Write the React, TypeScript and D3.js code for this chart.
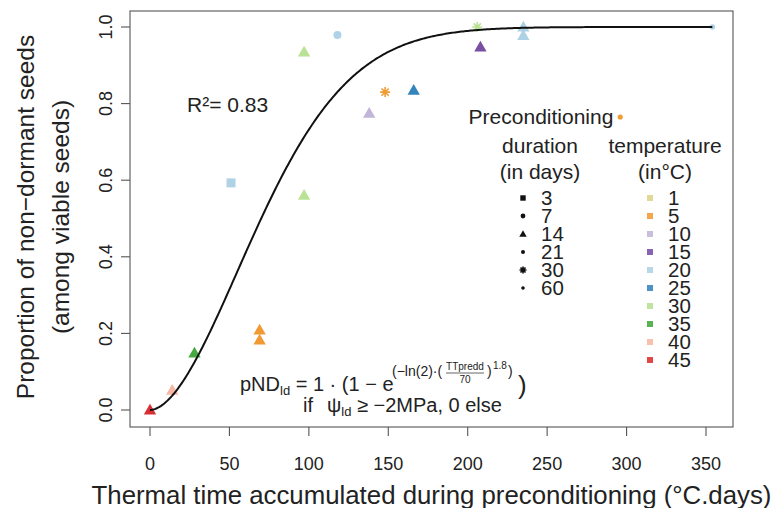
import React from 'react';
import * as d3 from 'd3';

// observed points: thermal time, proportion, temperature, duration
const thermalTime = [0, 14, 28, 69, 69, 51, 97, 97, 118, 138, 148, 166, 208, 206, 235, 235, 296, 354];
const proportion = [0, 0.052, 0.149, 0.209, 0.183, 0.593, 0.935, 0.561, 0.979, 0.775, 0.83, 0.835, 0.948, 1.0, 1.0, 0.978, 0.765, 1.0];
const tempOf = [45, 40, 35, 5, 5, 20, 30, 30, 20, 10, 5, 25, 15, 30, 20, 20, 5, 20];
const durOf = [14, 14, 14, 14, 14, 3, 14, 14, 7, 14, 30, 14, 14, 30, 14, 14, 60, 21];

const durations = [3, 7, 14, 21, 30, 60];
const temperatures = [1, 5, 10, 15, 20, 25, 30, 35, 40, 45];
const tempColors = ['#d9cf7e', '#f0901e', '#bcaed4', '#6a3d9a', '#a6cee3', '#1f78b4', '#b2df8a', '#33a02c', '#f8b09c', '#d7191c'];

const xTicks = [0, 50, 100, 150, 200, 250, 300, 350];
const yTicks = [0, 0.2, 0.4, 0.6, 0.8, 1.0];

// fitted model
const TT50 = 70;
const shape = 1.8;
const r2 = '0.83';

const font = 'Liberation Sans, Arial, Helvetica, sans-serif';

function Marker({ dur, x, y, color, small }: any) {
  const k = small ? 0.6 : 1;
  if (dur === 3) {
    const s = 9 * k;
    return <rect x={x - s / 2} y={y - s / 2} width={s} height={s} fill={color} />;
  }
  if (dur === 7) return <circle cx={x} cy={y} r={4 * k} fill={color} />;
  if (dur === 14) {
    const p = d3.symbol().type(d3.symbolTriangle).size(small ? 24 : 66)();
    return <path d={p as string} transform={`translate(${x},${y + (small ? 0.5 : 1)})`} fill={color} />;
  }
  if (dur === 21) return <circle cx={x} cy={y} r={small ? 2 : 2.8} fill={color} />;
  if (dur === 30) {
    const r = small ? 3.5 : 5;
    const d = r * 0.72;
    return (
      <path
        d={`M${x - r},${y}H${x + r}M${x},${y - r}V${y + r}M${x - d},${y - d}L${x + d},${y + d}M${x - d},${y + d}L${x + d},${y - d}`}
        stroke={color}
        strokeWidth={1.6}
        fill="none"
      />
    );
  }
  return <circle cx={x} cy={y} r={small ? 1.8 : 2.6} fill={color} />;
}

export default function App() {
  const x = d3.scaleLinear().domain([0, 350]).range([150, 706]);
  const y = d3.scaleLinear().domain([0, 1]).range([410, 27]);
  const box = { left: 130, right: 733, top: 11, bottom: 427 };

  const model = (t: number) => 1 * (1 - Math.exp(-Math.log(2) * Math.pow(t / TT50, shape)));
  const maxTT = d3.max(thermalTime) as number;
  const curve = d3
    .line<number>()
    .x(t => x(t))
    .y(t => y(model(t)))(d3.range(0, maxTT + 0.5, 1));

  const colorOf = (t: number) => tempColors[temperatures.indexOf(t)];
  const legY0 = 198;
  const legStep = 18;

  return (
    <svg width={778} height={508} style={{ position: 'absolute', left: 0, top: 0, background: '#fff' }} fontFamily={font}>
      <rect x={box.left} y={box.top} width={box.right - box.left} height={box.bottom - box.top} fill="none" stroke="#555" strokeWidth={1.1} />

      {/* x axis */}
      {xTicks.map(t => (
        <g key={t}>
          <line x1={x(t)} x2={x(t)} y1={box.bottom} y2={box.bottom + 9} stroke="#555" strokeWidth={1.1} />
          <text x={x(t)} y={470} textAnchor="middle" fontSize={18} fill="#222">{t}</text>
        </g>
      ))}
      {/* y axis */}
      {yTicks.map(t => (
        <g key={t}>
          <line x1={box.left - 9} x2={box.left} y1={y(t)} y2={y(t)} stroke="#555" strokeWidth={1.1} />
          <text transform={`translate(112,${y(t)}) rotate(-90)`} textAnchor="middle" fontSize={18} fill="#222">{t.toFixed(1)}</text>
        </g>
      ))}

      <text x={(box.left + box.right) / 2} y={504} textAnchor="middle" fontSize={25.8} fill="#222">
        Thermal time accumulated during preconditioning (°C.days)
      </text>
      <text transform={`translate(34,${(box.top + box.bottom) / 2 - 2}) rotate(-90)`} textAnchor="middle" fontSize={24.5} fill="#222">
        Proportion of non−dormant seeds
      </text>
      <text transform={`translate(69,${(box.top + box.bottom) / 2 - 2}) rotate(-90)`} textAnchor="middle" fontSize={24.5} fill="#222">
        (among viable seeds)
      </text>

      {/* points */}
      {thermalTime.map((t, i) => (
        <g key={i} opacity={0.9}>
          <Marker dur={durOf[i]} x={x(t)} y={y(proportion[i])} color={colorOf(tempOf[i])} />
        </g>
      ))}

      <path d={curve as string} fill="none" stroke="#111" strokeWidth={2} />

      <text x={187} y={112} fontSize={21} fill="#222">
        R²= {r2}
      </text>

      {/* equation */}
      <g fill="#222">
        <text x={240} y={391} fontSize={20}>
          pND<tspan fontSize={13} dy={4}>ld</tspan>
          <tspan dy={-4}> = 1 · (1 − e</tspan>
        </text>
        <text x={392} y={376} fontSize={14}>(−ln(2)·(</text>
        <text x={465} y={370} fontSize={10} textAnchor="middle">TTpredd</text>
        <line x1={446} x2={484} y1={373} y2={373} stroke="#222" strokeWidth={0.7} />
        <text x={465} y={383} fontSize={10} textAnchor="middle">70</text>
        <text x={487} y={376} fontSize={14}>)</text>
        <text x={493} y={369} fontSize={10}>1.8</text>
        <text x={508} y={376} fontSize={14}>)</text>
        <text x={518} y={394} fontSize={26}>)</text>
        <text x={303} y={412} fontSize={20}>
          if<tspan dx={14}>ψ</tspan>
          <tspan fontSize={13} dy={4}>ld</tspan>
          <tspan dy={-4}> ≥ −2MPa, 0 else</tspan>
        </text>
      </g>

      {/* legend */}
      <g fill="#222" fontSize={20.5}>
        <text x={541} y={124} textAnchor="middle" fontSize={21}>Preconditioning</text>
        <text x={540} y={153} textAnchor="middle" fontSize={21}>duration</text>
        <text x={540} y={179} textAnchor="middle" fontSize={21}>(in days)</text>
        <text x={665} y={153} textAnchor="middle" fontSize={21}>temperature</text>
        <text x={665} y={179} textAnchor="middle" fontSize={21}>(in°C)</text>
        {durations.map((d, i) => (
          <g key={d}>
            <Marker dur={d} x={523} y={legY0 + i * legStep} color="#111" small />
            <text x={541} y={legY0 + i * legStep + 7}>{d}</text>
          </g>
        ))}
        {temperatures.map((t, i) => (
          <g key={t}>
            <rect x={647} y={legY0 + i * legStep - 3} width={6} height={6} fill={tempColors[i]} opacity={0.8} />
            <text x={668} y={legY0 + i * legStep + 7}>{t}</text>
          </g>
        ))}
      </g>
    </svg>
  );
}
